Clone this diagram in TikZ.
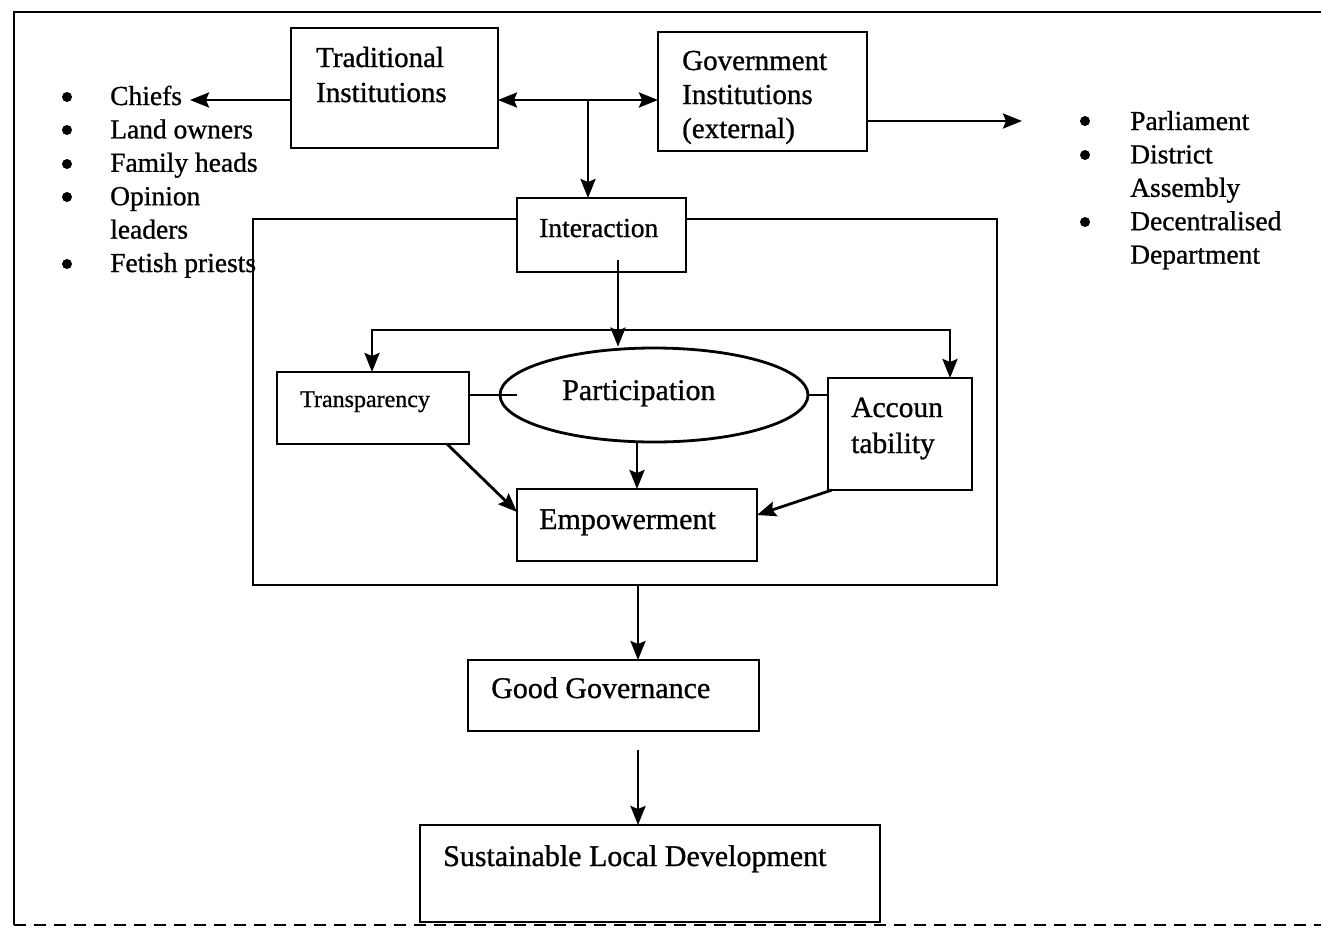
\documentclass[tikz,border=0pt]{standalone}
\usepackage{fontspec}
\setmainfont{Liberation Serif}[FakeBold=0.9]
\usetikzlibrary{calc,positioning,arrows.meta,shapes.geometric}
\tikzset{
  wire/.style={line width=2.8pt},
  link/.style={wire, -{Stealth[length=19pt,width=15pt,inset=3pt]}},
  twoway/.style={wire, {Stealth[length=19pt,width=15pt,inset=3pt]}-{Stealth[length=19pt,width=15pt,inset=3pt]}},
  box/.style={draw, line width=2.8pt, fill=white, anchor=north west, inner sep=0pt, outer sep=0pt},
  lbl/.style={anchor=base west, inner sep=0pt, align=left},
  blist/.style={anchor=base west, inner sep=0pt, font={\fontsize{27.5}{33.4}\selectfont}}
}

\begin{document}
\begin{tikzpicture}[x=1pt,y=-1pt]
  \useasboundingbox (0,0) rectangle (1321,927);
  % page frame
  \draw[wire] (1321,12) -- (14,12) -- (14,925);
  \draw[line width=1.4pt, dash pattern=on 12pt off 8pt] (14,925) -- (1321,925);

  % the two kinds of institutions (base = last line)
  \node[box, minimum width=207pt, minimum height=120pt] (trad) at (291,28) {};
  \node[lbl, font={\fontsize{29}{35}\selectfont}] (trad-t) at (316,102) {Traditional\\Institutions};
  \node[box, minimum width=209pt, minimum height=119pt] (gov) at (658,32) {};
  \node[lbl, font={\fontsize{29}{34}\selectfont}] (gov-t) at (682,138) {Government\\Institutions\\(external)};

  % bullet lists
  \node[blist] (locals) at (110,105) {\begin{tabular}[t]{@{}l@{}}
    Chiefs\\ Land owners\\ Family heads\\ Opinion\\ leaders\\ Fetish priests
  \end{tabular}};
  \node[blist] (officials) at (1130,130) {\begin{tabular}[t]{@{}l@{}}
    Parliament\\ District\\ Assembly\\ Decentralised\\ Department
  \end{tabular}};
  \foreach \y in {97,130,164,197,264} \fill (67,\y) circle (5pt);
  \foreach \y in {121,155,222} \fill (1085,\y) circle (5pt);

  \coordinate (hub) at (588,100);
  \coordinate (chiefs-tip) at (190,100);
  \coordinate (pm-tip) at (1022,121);
  \draw[twoway] (trad.east |- hub) -- (gov.west |- hub);
  \draw[link] (trad.west |- hub) -- (chiefs-tip);
  \draw[link] (gov.east |- pm-tip) -- (pm-tip);

  % interaction area
  \node[box, fill=none, minimum width=744pt, minimum height=366pt] (arena) at (253,219) {};
  \node[box, minimum width=169pt, minimum height=74pt] (inter) at (517,198) {};
  \node[lbl, font={\fontsize{27.5}{33}\selectfont}] (inter-t) at (539,237) {Interaction};
  \draw[link] (hub) -- (hub |- inter.north);

  \node[box, minimum width=192pt, minimum height=72pt] (transp) at (277,372) {};
  \node[lbl, font={\fontsize{24}{29}\selectfont}] (transp-t) at (300,407) {Transparency};
  \node[draw, wire, ellipse, minimum width=308pt, minimum height=94pt, inner sep=0pt] (part) at (654,395) {};
  \node[lbl, font={\fontsize{30}{36}\selectfont}] (part-t) at (562,400) {Participation};
  \node[box, minimum width=144pt, minimum height=112pt] (acc) at (828,378) {};
  \node[lbl, font={\fontsize{29.5}{36}\selectfont}] (acc-t) at (851,453) {Accoun\\tability};
  \node[box, minimum width=240pt, minimum height=72pt] (emp) at (517,489) {};
  \node[lbl, font={\fontsize{30}{36}\selectfont}] (emp-t) at (539,529) {Empowerment};

  \coordinate (drop) at (618,330);
  \coordinate (bl) at (372,330);
  \coordinate (br) at (950,330);
  \draw[link] ($(inter.south -| drop)+(0,-12)$) -- (drop |- part.north);
  \draw[twoway] (transp.north -| bl) -- (bl) -- (br) -- (acc.north -| br);
  \draw[wire] (transp.east |- part.west) -- ($(part.west)+(18,0)$);
  \draw[wire] (part.east) -- (acc.west |- part.east);
  \draw[link] (emp.north |- part.south) -- (emp.north);
  \draw[link] ($(transp.south east)+(-22,0)$) -- ($(emp.west)+(0,-13)$);
  \draw[link] ($(acc.south west)+(4,0)$) -- ($(emp.east)+(0,-10)$);

  % outcomes
  \node[box, minimum width=291pt, minimum height=71pt] (gg) at (468,660) {};
  \node[lbl, font={\fontsize{30}{36}\selectfont}] (gg-t) at (491,698) {Good Governance};
  \node[box, minimum width=460pt, minimum height=97pt] (sld) at (420,825) {};
  \node[lbl, font={\fontsize{30}{36}\selectfont}] (sld-t) at (443,866) {Sustainable Local Development};

  \coordinate (spine) at (638,0);
  \draw[link] (arena.south -| spine) -- (gg.north -| spine);
  \draw[link] ($(gg.south -| spine)+(0,19)$) -- (sld.north -| spine);
\end{tikzpicture}
\end{document}
